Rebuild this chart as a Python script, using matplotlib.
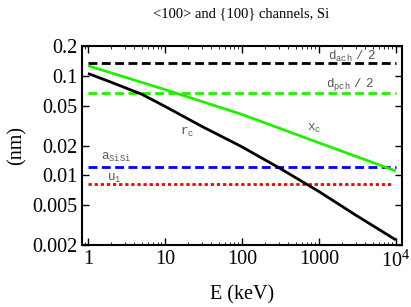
import matplotlib
matplotlib.use("Agg")
import matplotlib.pyplot as plt
from matplotlib.ticker import FixedLocator, LogLocator, NullFormatter

# Data
E_rc = [1, 2, 3, 5, 10, 30, 100, 300, 1000, 3000, 10000]
r_c = [0.106, 0.0865, 0.0765, 0.0655, 0.0495, 0.0312, 0.0194, 0.0120, 0.0069, 0.0040, 0.00225]
E_xc = [1, 10, 100, 1000, 10000]
x_c = [0.127, 0.073, 0.0411, 0.0213, 0.0111]
E_range = [1, 10000]
d_ach_half = 0.1357
d_pch_half = 0.0679
a_SiSi = 0.0122
u_1 = 0.0082

xticks = [1, 10, 100, 1000, 10000]
xticklabels = ["1", "10", "100", "1000", r"$10^4$"]
yticks = [0.002, 0.005, 0.01, 0.02, 0.05, 0.1, 0.2]
yticklabels = ["0.002", "0.005", "0.01", "0.02", "0.05", "0.1", "0.2"]

serif = ["Liberation Serif", "DejaVu Serif"]
plt.rcParams["mathtext.fontset"] = "custom"
plt.rcParams["mathtext.rm"] = "Liberation Serif"
plt.rcParams["mathtext.tt"] = "Liberation Mono"

fig = plt.figure(figsize=(4.11, 3.07), dpi=100)
ax = fig.add_axes([0.1995, 0.202, 0.7785, 0.648])

lw = 2.0
ax.plot(E_range, [d_ach_half] * 2, color="black", lw=lw, ls=(0, (3.2, 1.6)))
ax.plot(E_range, [d_pch_half] * 2, color="#22ee00", lw=lw, ls=(0, (3.2, 1.6)))
ax.plot(E_range, [a_SiSi] * 2, color="#0000ff", lw=lw, ls=(0, (3.2, 1.6)))
ax.plot([1, 9000], [u_1] * 2, color="#ff0000", lw=lw, ls=(0, (1.2, 1.0)))
ax.plot(E_xc, x_c, color="#22ee00", lw=lw, solid_capstyle="butt")
ax.plot(E_rc, r_c, color="black", lw=lw, solid_capstyle="butt")

ax.set_xscale("log")
ax.set_yscale("log")
ax.set_xlim(0.835, 12000)
ax.set_ylim(0.002, 0.2)

ax.xaxis.set_major_locator(FixedLocator(xticks))
ax.set_xticklabels(xticklabels)
ax.xaxis.set_minor_locator(LogLocator(base=10, subs=range(2, 10), numticks=20))
ax.xaxis.set_minor_formatter(NullFormatter())
ax.yaxis.set_major_locator(FixedLocator(yticks))
ax.set_yticklabels(yticklabels)
ax.yaxis.set_minor_locator(FixedLocator([]))

ax.tick_params(which="both", direction="in", top=True, right=True)
ax.tick_params(which="major", length=5, width=1.0, labelsize=14.5)
ax.tick_params(which="minor", length=2.5, width=0.6)
for lab in ax.get_xticklabels() + ax.get_yticklabels():
    lab.set_family(serif)
for s in ax.spines.values():
    s.set_linewidth(1.5)

ax.set_xlabel("E (keV)", fontsize=14.5, family=serif, labelpad=10)
ax.set_ylabel("(nm)", fontsize=14.5, family=serif, labelpad=4)
fig.text(0.587, 0.955, "<100> and {100} channels, Si", ha="center", va="center",
         fontsize=10.5, family=serif)

tc = "#555555"
fs = 9
ax.text(1300, 0.158, r"$\mathtt{d_{ach}}\ \mathtt{/\ 2}$", fontsize=fs, color=tc, va="center")
ax.text(1250, 0.083, r"$\mathtt{d_{pch}}\ \mathtt{/\ 2}$", fontsize=fs, color=tc, va="center")
ax.text(700, 0.0295, r"$\mathtt{x_{c}}$", fontsize=fs, color=tc, va="center")
ax.text(15.6, 0.0273, r"$\mathtt{r_{c}}$", fontsize=fs, color=tc, va="center")
ax.text(1.47, 0.0153, r"$\mathtt{a_{SiSi}}$", fontsize=fs, color=tc, va="center")
ax.text(1.76, 0.0094, r"$\mathtt{u_{1}}$", fontsize=fs, color=tc, va="center")

fig.savefig("out.png", dpi=100)
